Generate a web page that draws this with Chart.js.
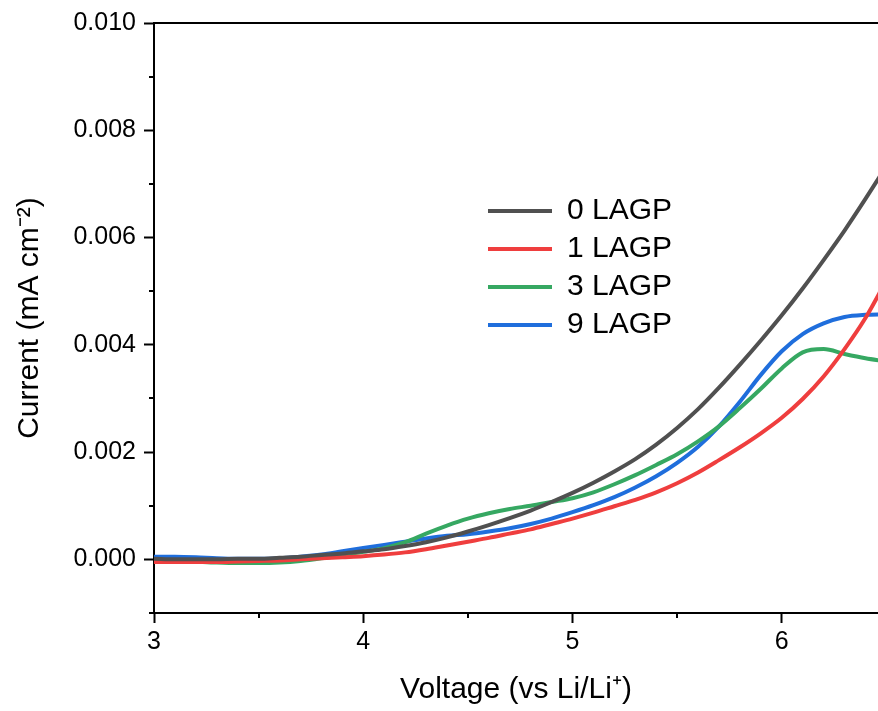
<!DOCTYPE html>
<html>
<head>
<meta charset="utf-8">
<script src="https://cdn.jsdelivr.net/npm/chart.js@4.4.1/dist/chart.umd.min.js"></script>
<style>
html,body{margin:0;padding:0;background:#fff;}
#wrap{width:878px;height:711px;}
</style>
</head>
<body>
<div id="wrap"><canvas id="c" width="878" height="711"></canvas></div>
<script>
// ---- data ----
const voltage = [3.0,3.1,3.2,3.3,3.4,3.5,3.6,3.7,3.8,3.9,4.0,4.1,4.2,4.3,4.4,4.5,4.6,4.7,4.8,4.9,5.0,5.1,5.2,5.3,5.4,5.5,5.6,5.7,5.8,5.9,6.0,6.1,6.2,6.3,6.4,6.5];
const current0LAGP = [0.00001,0.00000,0.00000,0.00000,0.00001,0.00001,0.00003,0.00005,0.00008,0.00011,0.00015,0.00019,0.00025,0.00032,0.00041,0.00052,0.00064,0.00077,0.00091,0.00107,0.00124,0.00143,0.00164,0.00187,0.00214,0.00245,0.00280,0.00320,0.00363,0.00408,0.00455,0.00505,0.00558,0.00613,0.00672,0.00733];
const current1LAGP = [-0.00005,-0.00005,-0.00005,-0.00005,-0.00004,-0.00003,-0.00002,0.00000,0.00002,0.00004,0.00006,0.00009,0.00013,0.00019,0.00026,0.00033,0.00040,0.00048,0.00056,0.00066,0.00076,0.00087,0.00099,0.00111,0.00125,0.00142,0.00162,0.00185,0.00209,0.00235,0.00264,0.00299,0.00341,0.00392,0.00450,0.00520];
const current3LAGP = [-0.00001,-0.00002,-0.00004,-0.00006,-0.00007,-0.00007,-0.00006,-0.00003,0.00002,0.00008,0.00014,0.00021,0.00032,0.00048,0.00063,0.00076,0.00086,0.00094,0.00100,0.00107,0.00114,0.00125,0.00140,0.00157,0.00176,0.00196,0.00220,0.00248,0.00282,0.00318,0.00356,0.00386,0.00392,0.00383,0.00375,0.00369];
const current9LAGP = [0.00005,0.00005,0.00004,0.00002,0.00001,0.00001,0.00002,0.00005,0.00009,0.00015,0.00021,0.00027,0.00033,0.00039,0.00044,0.00047,0.00052,0.00058,0.00066,0.00076,0.00088,0.00101,0.00116,0.00134,0.00155,0.00180,0.00210,0.00248,0.00294,0.00344,0.00388,0.00420,0.00440,0.00452,0.00456,0.00457];
const seriesNames = ['0 LAGP','1 LAGP','3 LAGP','9 LAGP'];
const xTickValues = [3,4,5,6];
const xMinorTickValues = [3.5,4.5,5.5];
const yTickValues = [0.000,0.002,0.004,0.006,0.008,0.010];
const yMinorTickValues = [-0.001,0.001,0.003,0.005,0.007,0.009];
const xRange = [3, 6.46];
const yRange = [-0.001, 0.010];
const xTitle = 'Voltage (vs Li/Li\u207A)';
const yTitle = 'Current (mA cm\u207B\u00B2)';

// ---- styles ----
const seriesColors = ['#505050','#ef3e3e','#36a862','#1f6edc'];
const seriesValues = [current0LAGP, current1LAGP, current3LAGP, current9LAGP];
const FONT = "'Liberation Sans', Arial, Helvetica, sans-serif";

Chart.defaults.font.family = FONT;
Chart.defaults.color = '#000';

const framePlugin = {
  id: 'frame',
  afterLayout(chart) {
    const lg = chart.legend;
    if (lg) { lg.left = 480; lg.top = 188; }
  },
  afterDraw(chart) {
    const {ctx, chartArea, scales} = chart;
    const x = scales.x, y = scales.y;
    ctx.save();
    ctx.strokeStyle = '#000';
    ctx.lineWidth = 2;
    ctx.beginPath();
    ctx.moveTo(chartArea.left - 1, chartArea.top);
    ctx.lineTo(chartArea.right, chartArea.top);
    xMinorTickValues.forEach(v => {
      const px = Math.round(x.getPixelForValue(v));
      ctx.moveTo(px, chartArea.bottom);
      ctx.lineTo(px, chartArea.bottom + 5);
    });
    yMinorTickValues.forEach(v => {
      const py = Math.round(y.getPixelForValue(v));
      ctx.moveTo(chartArea.left, py);
      ctx.lineTo(chartArea.left - 5, py);
    });
    ctx.stroke();
    ctx.restore();
  }
};

new Chart(document.getElementById('c'), {
  type: 'line',
  data: {
    datasets: seriesNames.map((name, i) => ({
      label: name,
      data: voltage.map((v, j) => ({x: v, y: seriesValues[i][j]})),
      borderColor: seriesColors[i],
      backgroundColor: seriesColors[i],
      borderWidth: 4,
      pointRadius: 0,
      cubicInterpolationMode: 'monotone',
      fill: false
    }))
  },
  options: {
    responsive: false,
    animation: false,
    events: [],
    layout: { padding: { top: 22, right: 0, bottom: 0, left: 0 } },
    plugins: {
      tooltip: { enabled: false },
      legend: {
        position: 'chartArea',
        align: 'start',
        labels: {
          font: { size: 30, family: FONT },
          color: '#000',
          boxWidth: 64,
          boxHeight: 4,
          padding: 8,
          generateLabels(chart) {
            const items = Chart.defaults.plugins.legend.labels.generateLabels(chart);
            items.forEach(it => { it.lineWidth = 0; it.fillStyle = it.strokeStyle; });
            return items;
          }
        }
      }
    },
    scales: {
      x: {
        type: 'linear',
        min: xRange[0],
        max: xRange[1],
        afterBuildTicks(scale) { scale.ticks = xTickValues.map(v => ({value: v})); },
        afterFit(scale) { scale.height = 98; scale.paddingLeft = 0; scale.paddingRight = 0; },
        ticks: {
          font: { size: 25, family: FONT },
          color: '#000',
          padding: 4,
          maxRotation: 0,
          callback: v => String(v)
        },
        grid: { display: true, drawOnChartArea: false, drawTicks: true, tickLength: 10, tickWidth: 2, tickColor: '#000' },
        border: { display: true, color: '#000', width: 2 },
        title: {
          display: true,
          text: xTitle,
          font: { size: 30, family: FONT },
          color: '#000',
          padding: { top: 0, bottom: 3 }
        }
      },
      y: {
        type: 'linear',
        min: yRange[0],
        max: yRange[1],
        afterBuildTicks(scale) { scale.ticks = yTickValues.map(v => ({value: v})); },
        afterFit(scale) { scale.width = 154; },
        ticks: {
          font: { size: 25, family: FONT },
          color: '#000',
          padding: 8,
          callback: v => Number(v).toFixed(3)
        },
        grid: { display: true, drawOnChartArea: false, drawTicks: true, tickLength: 10, tickWidth: 2, tickColor: '#000' },
        border: { display: true, color: '#000', width: 2 },
        title: {
          display: true,
          text: yTitle,
          font: { size: 30, family: FONT },
          color: '#000',
          padding: { top: 12, bottom: 0 }
        }
      }
    }
  },
  plugins: [framePlugin]
});
</script>
</body>
</html>
